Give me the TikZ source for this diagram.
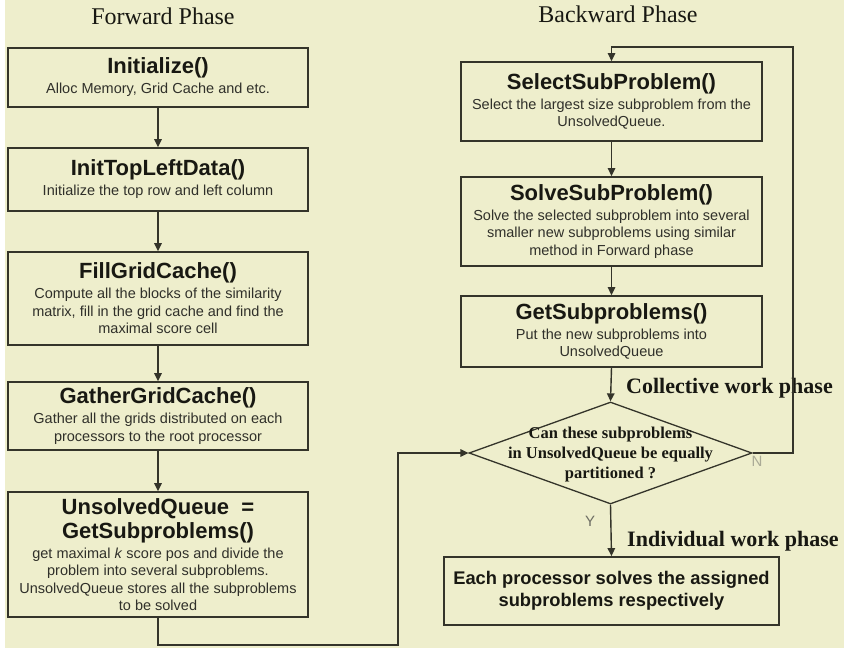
\documentclass[tikz,border=0pt]{standalone}
\usepackage{fontspec}
\setmainfont{Liberation Serif}
\setsansfont{Liberation Sans}
\usetikzlibrary{arrows.meta,shapes.geometric}

\definecolor{paper}{RGB}{238,238,204}
\definecolor{edge}{RGB}{52,52,42}
\definecolor{ink}{RGB}{24,24,18}
\definecolor{subink}{RGB}{48,48,42}

% fonts for the box headings
\newcommand\fnhead{\sffamily\bfseries\fontsize{22}{27}\selectfont\color{ink}}

\tikzset{
  stepbox/.style={draw=edge, line width=1.8pt, rectangle, inner sep=0pt,
    align=center, text=subink, font=\sffamily\fontsize{14.5}{17.5}\selectfont},
  flow/.style={draw=edge, line width=1.4pt, -{Triangle[width=7.5pt,length=8pt]}},
  phase/.style={font=\fontsize{24}{28}\selectfont, text=ink, anchor=base},
  worklabel/.style={font=\bfseries\fontsize{22}{26}\selectfont, text=ink, anchor=base},
}

\begin{document}
\begin{tikzpicture}[x=1pt,y=-1pt]
  \useasboundingbox (0,0) rectangle (844,650);
  \fill[paper] (5,0) rectangle (844,648);

  % phase headings
  \node[phase] (fwd) at (163,24.5) {Forward Phase};
  \node[phase] (bwd) at (618,23) {Backward Phase};

  % forward phase column
  \node[stepbox, minimum width=300pt, minimum height=59pt] (init) at (158,77.5)
    {{\fnhead Initialize()}\\[2.5pt]Alloc Memory, Grid Cache and etc.};
  \node[stepbox, minimum width=300pt, minimum height=63pt] (topleft) at (158,179.5)
    {{\fnhead InitTopLeftData()}\\[2.5pt]Initialize the top row and left column};
  \node[stepbox, minimum width=300pt, minimum height=93pt] (fill) at (158,298.5)
    {{\fnhead FillGridCache()}\\[2.5pt]Compute all the blocks of the similarity\\
     matrix, fill in the grid cache and find the\\maximal score cell};
  \node[stepbox, minimum width=300pt, minimum height=68pt] (gather) at (158,416)
    {{\fnhead GatherGridCache()}\\[2.5pt]Gather all the grids distributed on each\\
     processors to the root processor};
  \node[stepbox, minimum width=300pt, minimum height=125pt] (unsolved) at (158,554.5)
    {{\fnhead UnsolvedQueue~~=}\\[2.5pt]{\fnhead GetSubproblems()}\\[2.5pt]
     get maximal \textit{k} score pos and divide the\\problem into several subproblems.\\
     UnsolvedQueue stores all the subproblems\\to be solved};

  % backward phase column
  \node[stepbox, minimum width=301pt, minimum height=79pt] (select) at (611.5,101.5)
    {{\fnhead SelectSubProblem()}\\[2.5pt]Select the largest size subproblem from the\\
     UnsolvedQueue.};
  \node[stepbox, minimum width=301pt, minimum height=89pt] (solve) at (611.5,221.5)
    {{\fnhead SolveSubProblem()}\\[2.5pt]Solve the selected subproblem into several\\
     smaller new subproblems using similar\\method in Forward phase};
  \node[stepbox, minimum width=301pt, minimum height=71pt] (getsub) at (611.5,331.5)
    {{\fnhead GetSubproblems()}\\[2.5pt]Put the new subproblems into\\UnsolvedQueue};

  % decision
  \node[draw=edge, line width=1.3pt, diamond, minimum width=283pt,
        minimum height=102pt, inner sep=0pt] (dec) at (610.5,453) {};
  \node[align=center, text=ink, font=\bfseries\fontsize{16.5}{20}\selectfont]
    (dectext) at (610.5,455) {Can these subproblems\\in UnsolvedQueue be equally\\partitioned ?};

  \node[stepbox, minimum width=335pt, minimum height=68pt, text=ink,
        font=\sffamily\bfseries\fontsize{18.3}{22}\selectfont] (each) at (611.5,591)
    {Each processor solves the assigned\\subproblems respectively};

  % phase labels
  \node[worklabel] (coll) at (729.5,393) {Collective work phase};
  \node[worklabel] (indiv) at (733,546) {Individual work phase};

  % branch labels
  \node[font=\sffamily\fontsize{15}{18}\selectfont, text={rgb,255:red,170;green,170;blue,150}]
    (nlab) at (757,461) {N};
  \node[font=\sffamily\fontsize{15}{18}\selectfont, text={rgb,255:red,110;green,110;blue,100}]
    (ylab) at (590,521) {Y};

  % connectors
  \draw[flow] (init) -- (topleft);
  \draw[flow] (topleft) -- (fill);
  \draw[flow] (fill) -- (gather);
  \draw[flow] (gather) -- (unsolved);

  \coordinate (lowturn) at (398,645);
  \draw[flow] (unsolved.south) |- (lowturn) |- (dec.west);

  \draw[flow] (select) -- (solve);
  \draw[flow] (solve) -- (getsub);
  \draw[flow] (getsub.south) -- (dec.north);
  \draw[flow] (dec.south) -- (each.north);

  \coordinate (loopcorner) at (793,47);
  \draw[flow] (dec.east) -| (loopcorner) -| (select.north);
\end{tikzpicture}
\end{document}
